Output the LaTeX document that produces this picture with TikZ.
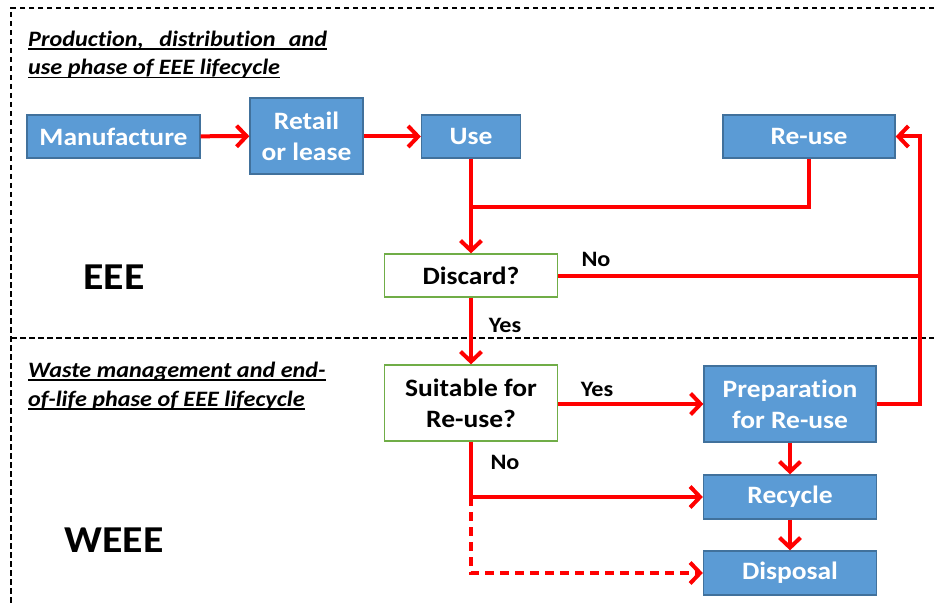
\documentclass[tikz,border=0pt]{standalone}
\usepackage{fontspec}
\setmainfont{Carlito}[FakeStretch=1.1, Ligatures=NoCommon]
\usetikzlibrary{arrows.meta}
\definecolor{boxblue}{RGB}{91,155,213}
\definecolor{boxedge}{RGB}{65,113,156}
\definecolor{qedge}{RGB}{112,173,71}
\definecolor{flowred}{RGB}{255,0,0}
% underline with a heavier rule than \underline gives
\newcommand\headrule[1]{\setbox0\hbox{#1}\rlap{\rule[-3.5pt]{\wd0}{1.6pt}}\box0}
\tikzset{
  stage/.style={draw=boxedge, line width=1.3pt, fill=boxblue, text=white,
    font=\fontsize{25}{31}\selectfont\bfseries, align=center, inner sep=0pt},
  query/.style={draw=qedge, line width=1.3pt, fill=white, text=black,
    font=\fontsize{25}{31}\selectfont\bfseries, align=center, inner sep=0pt},
  flow/.style={draw=flowred, line width=4pt},
  tip/.style={-{Straight Barb[length=10pt,width=21pt]}},
  frame/.style={draw=black, line width=1.2pt, dash pattern=on 5.5pt off 3.5pt},
  lbl/.style={font=\fontsize{22}{26}\selectfont\bfseries, inner sep=0pt},
  phase/.style={font=\fontsize{38}{42}\selectfont\bfseries, inner sep=0pt},
  heading/.style={font=\fontsize{22}{28.5}\selectfont\bfseries\itshape, align=left,
    anchor=base west, inner sep=0pt},
}
\begin{document}
\begin{tikzpicture}[x=1pt, y=-1pt]
\useasboundingbox (0,0) rectangle (934,604);

% dashed frame of the two lifecycle phases
\draw[frame] (934,8) -- (11,8) -- (11,604);
\draw[frame] (11,338) -- (934,338);

% phase headings (anchored at the baseline of their second line)
\node[heading] (h1) at (28,75) {\headrule{\makebox[299pt][s]{Production, distribution and}}\\
  \headrule{use phase of EEE lifecycle}};
\node[heading] (h2) at (28,406) {\headrule{Waste management and end-}\\
  \headrule{of-life phase of EEE lifecycle}};

\node[phase] (eee) at (114,277) {EEE};
\node[phase] (weee) at (114,540) {WEEE};

% lifecycle stages
\node[stage, minimum width=173pt, minimum height=43pt] (manu) at (113.5,136.5) {Manufacture};
\node[stage, minimum width=113pt, minimum height=76pt] (retail) at (306.5,136) {Retail\\or lease};
\node[stage, minimum width=99pt, minimum height=43pt] (use) at (471,136.5) {Use};
\node[stage, minimum width=172pt, minimum height=43pt] (reuse) at (809,136.5) {Re-use};
\node[query, minimum width=173pt, minimum height=43pt] (discard) at (471,275.5) {Discard?};
\node[query, minimum width=173pt, minimum height=76pt] (suit) at (471,403) {Suitable for\\Re-use?};
\node[stage, minimum width=172pt, minimum height=76pt] (prep) at (790,404) {Preparation\\for Re-use};
\node[stage, minimum width=173pt, minimum height=44pt] (recycle) at (790,497) {Recycle};
\node[stage, minimum width=173pt, minimum height=44pt] (disposal) at (790,573) {Disposal};

% junction points of the connectors
\coordinate (merge) at (471,207);
\coordinate (back) at (920,136.5);

% connectors
\draw[flow, tip] (manu) -- (retail);
\draw[flow, tip] (retail.east |- use.west) -- (use.west);
\draw[flow, tip] (use.south) -- (discard.north);
\draw[flow] (reuse.south) |- (merge);
\draw[flow] (discard.east) -- (discard.east -| back);
\draw[flow, tip] (prep.east) -| (back) -- (reuse.east);
\draw[flow, tip] (discard.south) -- (suit.north);
\draw[flow, tip] (suit.east |- prep.west) -- (prep.west);
\draw[flow, tip] (suit.south) |- (recycle.west);
\draw[flow, tip, dash pattern=on 9pt off 6pt] (suit.south |- recycle.west) |- (disposal.west);
\draw[flow, tip] (prep.south) -- (recycle.north);
\draw[flow, tip] (recycle.south) -- (disposal.north);

% decision labels
\node[lbl] (no1) at (596,259) {No};
\node[lbl] (yes1) at (505,325) {Yes};
\node[lbl] (yes2) at (597,389) {Yes};
\node[lbl] (no2) at (505,462) {No};
\end{tikzpicture}
\end{document}
